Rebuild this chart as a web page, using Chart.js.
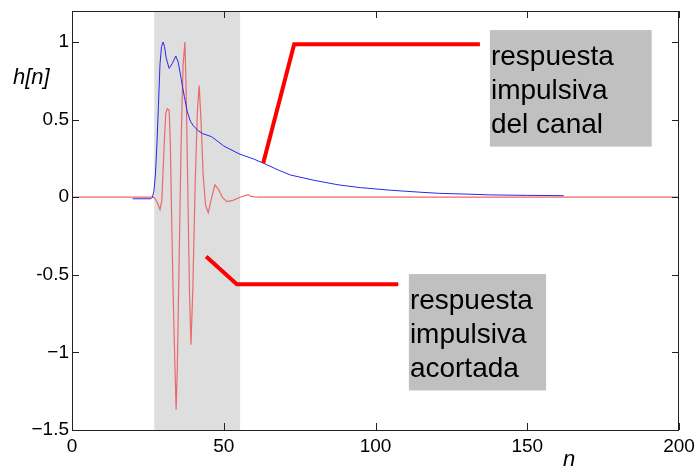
<!DOCTYPE html>
<html>
<head>
<meta charset="utf-8">
<script src="https://cdn.jsdelivr.net/npm/chart.js@4.4.1/dist/chart.umd.min.js"></script>
<style>
  html, body { margin: 0; padding: 0; background: #fff; }
  #wrap { width: 697px; height: 470px; }
</style>
</head>
<body>
<div id="wrap"><canvas id="hChart" width="697" height="470"></canvas></div>
<script>
// Respuesta impulsiva del canal (azul) y acortada (rojo)

// canal: muestras n / h[n]
var channelN = [20, 26, 26.5, 27, 27.5, 28, 28.5, 29, 29.5, 30, 30.5, 31, 32, 33, 34.2, 35, 36, 37, 38, 39, 40, 41.5, 43, 46, 50, 55, 60, 63, 68, 72, 80, 88, 95, 105, 115, 121, 130, 138, 150, 162];
var channelH = [-0.01, -0.01, 0.0, 0.04, 0.15, 0.35, 0.6, 0.86, 0.97, 1.0, 0.97, 0.9, 0.83, 0.86, 0.91, 0.87, 0.76, 0.65, 0.55, 0.49, 0.46, 0.43, 0.41, 0.39, 0.33, 0.28, 0.245, 0.22, 0.175, 0.143, 0.108, 0.079, 0.062, 0.045, 0.032, 0.025, 0.02, 0.015, 0.012, 0.01];

// acortada
var shortN = [0, 27, 28, 29, 29.6, 30.4, 30.9, 31.4, 32.0, 32.4, 32.8, 33.3, 33.8, 34.3, 34.7, 35.3, 36.0, 36.6, 37.2, 37.6, 38.2, 38.7, 39.2, 39.8, 40.6, 41.3, 41.9, 42.5, 43.2, 44.0, 44.9, 45.8, 47.1, 48.3, 49.5, 51, 53, 55.4, 57, 58, 59, 61, 200];
var shortH = [0, 0, -0.03, -0.08, -0.02, 0.35, 0.54, 0.57, 0.56, 0.35, -0.1, -0.6, -1.0, -1.37, -1.1, -0.4, 0.4, 0.85, 1.0, 0.7, 0.0, -0.6, -0.95, -0.6, 0.1, 0.55, 0.72, 0.5, 0.15, -0.05, -0.10, -0.02, 0.08, 0.05, 0.0, -0.028, -0.02, 0.0, 0.01, 0.017, 0.005, 0, 0];

// ejes
var xTicks = [0, 50, 100, 150, 200];
var yTicks = [-1.5, -1, -0.5, 0, 0.5, 1];
var yTickLabels = ['\u22121.5', '\u22121', '-0.5', '0', '0.5', '1'];

// zona sombreada (ventana)
var windowRange = [27.1, 55.4];

// flechas de anotacion (en unidades de datos)
var arrowChannelN = [63.0, 73.2, 134.4];
var arrowChannelH = [0.219, 0.986, 0.986];
var arrowShortN = [44.2, 54.3, 107.5];
var arrowShortH = [-0.382, -0.56, -0.56];

// cajas de texto: [nIzq, nDer, hArriba, hAbajo]
var boxChannel = [137.7, 191.0, 1.077, 0.326];
var boxShort = [111.0, 156.2, -0.495, -1.245];
var labelChannel = ['respuesta', 'impulsiva', 'del canal'];
var labelShort = ['respuesta', 'impulsiva', 'acortada'];

function toPoints(xs, ys) {
    return xs.map(function(x, i) { return { x: x, y: ys[i] }; });
}

var FONT = '"Liberation Sans", Arial, Helvetica, sans-serif';

// sombreado detras de las curvas
var shadePlugin = {
    id: 'shade',
    beforeDatasetsDraw: function(chart) {
        var ctx = chart.ctx, xs = chart.scales.x, a = chart.chartArea;
        var x0 = xs.getPixelForValue(windowRange[0]);
        var x1 = xs.getPixelForValue(windowRange[1]);
        ctx.save();
        ctx.fillStyle = '#dedede';
        ctx.fillRect(x0, a.top, x1 - x0, a.bottom - a.top);
        ctx.restore();
    }
};

// marco estilo matlab, ticks hacia dentro, cajas y titulos
var framePlugin = {
    id: 'frame',
    afterDatasetsDraw: function(chart) {
        var ctx = chart.ctx, xs = chart.scales.x, ys = chart.scales.y, a = chart.chartArea;
        var tl = 7;
        ctx.save();
        ctx.strokeStyle = '#222';
        ctx.lineWidth = 1;
        ctx.beginPath();
        xTicks.forEach(function(v) {
            var px = Math.round(xs.getPixelForValue(v)) + 0.5;
            ctx.moveTo(px, a.bottom); ctx.lineTo(px, a.bottom - tl);
            ctx.moveTo(px, a.top); ctx.lineTo(px, a.top + tl);
        });
        yTicks.forEach(function(v) {
            var py = Math.round(ys.getPixelForValue(v)) + 0.5;
            ctx.moveTo(a.left, py); ctx.lineTo(a.left + tl, py);
            ctx.moveTo(a.right, py); ctx.lineTo(a.right - tl, py);
        });
        ctx.stroke();
        ctx.strokeRect(Math.round(a.left) + 0.5, Math.round(a.top) + 0.5,
                       Math.round(a.right - a.left) - 1, Math.round(a.bottom - a.top));

        function drawBox(box, lines) {
            var bx0 = xs.getPixelForValue(box[0]), bx1 = xs.getPixelForValue(box[1]);
            var by0 = ys.getPixelForValue(box[2]), by1 = ys.getPixelForValue(box[3]);
            ctx.fillStyle = '#c0c0c0';
            ctx.fillRect(bx0, by0, bx1 - bx0, by1 - by0);
            ctx.fillStyle = '#000';
            ctx.font = '28px ' + FONT;
            ctx.textAlign = 'left';
            ctx.textBaseline = 'alphabetic';
            lines.forEach(function(t, i) {
                ctx.fillText(t, bx0 + 1, by0 + 35 + i * 34);
            });
        }
        drawBox(boxChannel, labelChannel);
        drawBox(boxShort, labelShort);

        ctx.fillStyle = '#000';
        ctx.font = 'italic 22px ' + FONT;
        ctx.textBaseline = 'middle';
        ctx.textAlign = 'left';
        ctx.fillText('h[n]', 13, a.top + 67);
        ctx.textAlign = 'center';
        ctx.fillText('n', 569, 460);
        ctx.restore();
    }
};

var lineDefaults = { showLine: true, pointRadius: 0, fill: false, tension: 0 };

new Chart(document.getElementById('hChart').getContext('2d'), {
    type: 'scatter',
    data: {
        datasets: [
            Object.assign({
                label: 'flecha canal',
                data: toPoints(arrowChannelN, arrowChannelH),
                borderColor: 'rgb(255, 0, 0)',
                borderWidth: 4,
                order: 0
            }, lineDefaults),
            Object.assign({
                label: 'flecha acortada',
                data: toPoints(arrowShortN, arrowShortH),
                borderColor: 'rgb(255, 0, 0)',
                borderWidth: 4,
                order: 0
            }, lineDefaults),
            Object.assign({
                label: 'canal',
                data: toPoints(channelN, channelH),
                borderColor: 'rgb(40, 40, 235)',
                borderWidth: 1,
                order: 1
            }, lineDefaults),
            Object.assign({
                label: 'acortada',
                data: toPoints(shortN, shortH),
                borderColor: 'rgb(235, 105, 105)',
                borderWidth: 1.2,
                order: 2
            }, lineDefaults)
        ]
    },
    options: {
        responsive: false,
        animation: false,
        devicePixelRatio: 1,
        layout: { padding: { left: 0, right: 18, top: 11, bottom: 0 } },
        plugins: {
            legend: { display: false },
            tooltip: { enabled: false }
        },
        scales: {
            x: {
                type: 'linear',
                min: 0,
                max: 200,
                grid: { display: false, drawTicks: false },
                border: { display: false },
                afterBuildTicks: function(scale) {
                    scale.ticks = xTicks.map(function(v) { return { value: v }; });
                },
                afterFit: function(scale) {
                    scale.height = 40;
                    scale.paddingLeft = 0;
                    scale.paddingRight = 0;
                },
                ticks: {
                    padding: 5,
                    color: '#000',
                    font: { family: FONT, size: 19 },
                    maxRotation: 0,
                    autoSkip: false,
                    callback: function(v) { return String(v); }
                }
            },
            y: {
                type: 'linear',
                min: -1.5,
                max: 1.2,
                grid: { display: false, drawTicks: false },
                border: { display: false },
                afterBuildTicks: function(scale) {
                    scale.ticks = yTicks.map(function(v) { return { value: v }; });
                },
                afterFit: function(scale) {
                    scale.width = 72;
                    scale.paddingTop = 0;
                    scale.paddingBottom = 0;
                },
                ticks: {
                    padding: 3,
                    color: '#000',
                    font: { family: FONT, size: 19 },
                    autoSkip: false,
                    callback: function(v) {
                        var i = yTicks.indexOf(v);
                        return i >= 0 ? yTickLabels[i] : '';
                    }
                }
            }
        }
    },
    plugins: [shadePlugin, framePlugin]
});
</script>
</body>
</html>
